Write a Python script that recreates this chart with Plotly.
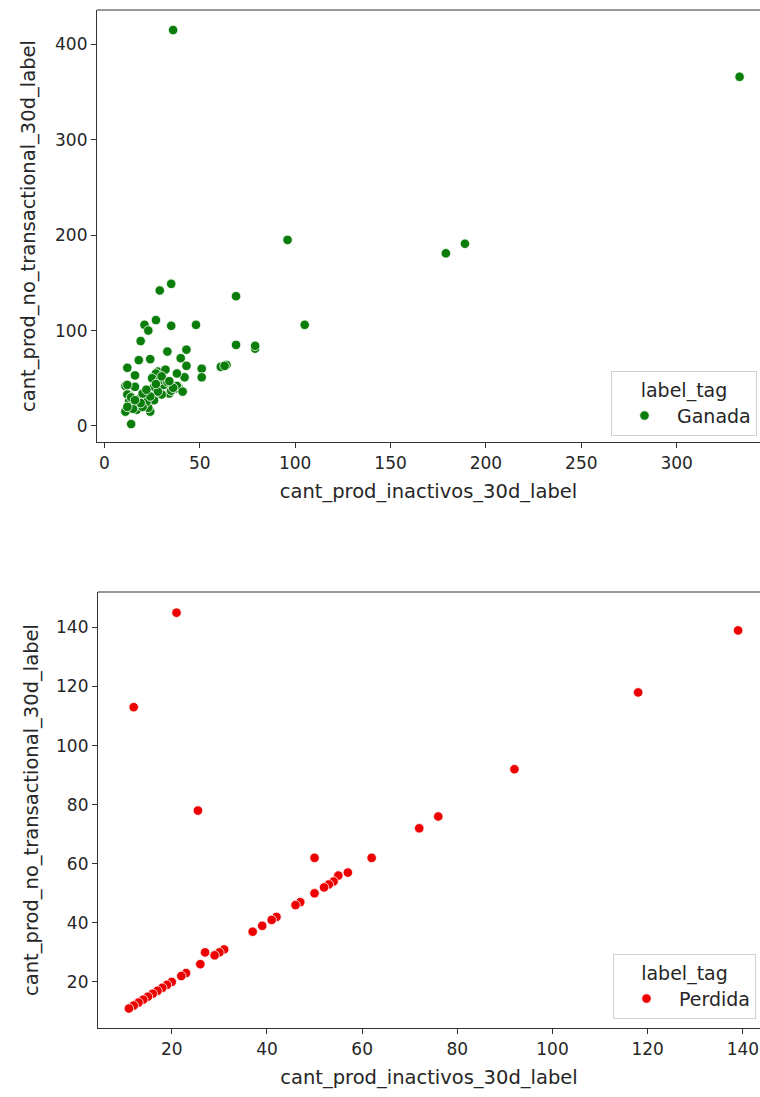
import plotly.graph_objects as go

# ---- Data: Ganada ----
ganada_x = [36, 333, 96, 179, 189, 105, 69, 35, 29, 27, 21, 23, 35, 48, 19, 69, 79, 79, 33, 43,
            40, 18, 24, 43, 12, 51, 51, 61, 64, 63, 16, 25, 28, 31, 42, 11, 16, 26, 39, 34,
            12, 13, 18, 11, 17, 24, 26, 14, 27, 32, 12, 25, 31, 37, 35, 21, 17, 23, 13, 22,
            30, 28, 38, 20, 15, 14, 19, 29, 33, 36, 41, 24, 27, 20, 16, 22, 12, 30, 34, 38]
ganada_y = [415, 366, 195, 181, 191, 106, 136, 149, 142, 111, 106, 100, 105, 106, 89, 85, 81, 84, 78, 80,
            71, 69, 70, 63, 61, 60, 51, 62, 64, 63, 53, 51, 57, 45, 51, 42, 41, 41, 40, 34,
            33, 23, 28, 15, 17, 15, 27, 2, 55, 59, 43, 50, 43, 39, 37, 29, 22, 19, 26, 25,
            33, 36, 42, 20, 18, 30, 24, 48, 46, 40, 36, 31, 44, 34, 27, 38, 20, 52, 47, 55]

# ---- Data: Perdida ----
perdida_x = [12, 21, 25.5, 50, 62, 118, 139, 92, 76, 72, 57, 55, 54, 53, 52, 50, 47, 46, 42, 41,
             39, 37, 31, 30, 29, 27, 26, 23, 22, 20, 19, 18, 17, 16, 15, 14, 13, 12, 11]
perdida_y = [113, 145, 78, 62, 62, 118, 139, 92, 76, 72, 57, 56, 54, 53, 52, 50, 47, 46, 42, 41,
             39, 37, 31, 30, 29, 30, 26, 23, 22, 20, 19, 18, 17, 16, 15, 14, 13, 12, 11]

x_title = "cant_prod_inactivos_30d_label"
y_title = "cant_prod_no_transactional_30d_label"
legend_title = "label_tag"

W, H = 760, 1097
FONT = "DejaVu Sans"
TXT = "#262626"

def px_x(p):
    return p / W

def px_y(p):
    return 1 - p / H

fig = go.Figure()
fig.add_trace(go.Scatter(
    x=ganada_x, y=ganada_y, mode="markers", name="Ganada",
    marker=dict(color="#0a7d0a", size=9.5, line=dict(color="white", width=0.8)),
    xaxis="x", yaxis="y", legend="legend"))
fig.add_trace(go.Scatter(
    x=perdida_x, y=perdida_y, mode="markers", name="Perdida",
    marker=dict(color="#ee0000", size=9.5, line=dict(color="white", width=0.8)),
    xaxis="x2", yaxis="y2", legend="legend2"))

axis_common = dict(
    showgrid=False, zeroline=False, showline=True, linecolor="#333333", linewidth=1.2,
    ticks="outside", ticklen=5, tickwidth=1.2, tickcolor="#333333",
    tickfont=dict(family=FONT, size=17, color=TXT),
    title_font=dict(family=FONT, size=19.5, color=TXT),
)

legend_common = dict(
    xanchor="right", yanchor="bottom",
    bgcolor="white", bordercolor="#d0d0d0", borderwidth=1,
    font=dict(family=FONT, size=19, color=TXT),
    title=dict(text=legend_title, side="top center", font=dict(family=FONT, size=19, color=TXT)),
    itemwidth=55,
)

fig.update_layout(
    width=W, height=H, margin=dict(l=0, r=0, t=0, b=0),
    paper_bgcolor="white", plot_bgcolor="white",
    showlegend=True,
    xaxis=dict(axis_common, domain=[px_x(97), 1], range=[-3.9, 343.7], anchor="y",
               tickvals=[0, 50, 100, 150, 200, 250, 300], title=dict(text=x_title, standoff=12)),
    yaxis=dict(axis_common, domain=[px_y(442), px_y(10)], range=[-16.8, 436], anchor="x",
               tickvals=[0, 100, 200, 300, 400], title=dict(text=y_title, standoff=14)),
    xaxis2=dict(axis_common, domain=[px_x(98), 1], range=[4.5, 143.6], anchor="y2",
                tickvals=[20, 40, 60, 80, 100, 120, 140], title=dict(text=x_title, standoff=12)),
    yaxis2=dict(axis_common, domain=[px_y(1028), px_y(592)], range=[4.4, 152], anchor="x2",
                tickvals=[20, 40, 60, 80, 100, 120, 140], title=dict(text=y_title, standoff=12)),
    legend=dict(legend_common, x=px_x(757), y=px_y(436)),
    legend2=dict(legend_common, x=px_x(756), y=px_y(1019)),
)

# top spines
for xr, yr in [("x domain", "y domain"), ("x2 domain", "y2 domain")]:
    fig.add_shape(type="line", xref=xr, yref=yr, x0=0, x1=1, y0=1, y1=1,
                  line=dict(color="#333333", width=1.2))

fig.write_html("out.html")
